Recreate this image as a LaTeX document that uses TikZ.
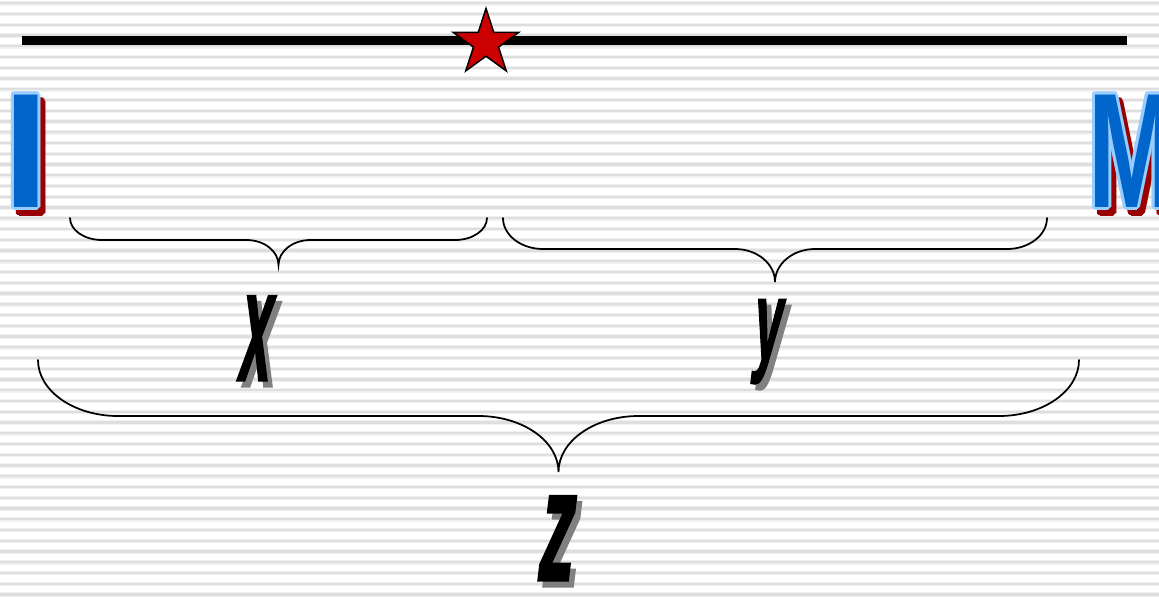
\documentclass[tikz,border=0pt]{standalone}
\usepackage{fontspec}
\usetikzlibrary{shapes.geometric}
\newfontfamily\capsfont{Liberation Sans Bold}
\newfontfamily\heavyfont{Liberation Sans Bold}[FakeBold=2]
\definecolor{capblue}{HTML}{0066CC}
\definecolor{caprim}{HTML}{99CCFF}
\definecolor{capshade}{HTML}{990000}
\definecolor{starred}{HTML}{CC0000}
\definecolor{stripe}{HTML}{DEDEDE}
\definecolor{stripesoft}{HTML}{F0F0F0}
\definecolor{shadegray}{HTML}{808080}
\tikzset{
  cap letter/.style={inner sep=0, anchor=base west, font=\capsfont\fontsize{93}{93}\selectfont},
  small letter/.style={inner sep=0, anchor=base, font=\heavyfont\fontsize{90}{90}\selectfont},
  brace line/.style={line width=0.035cm, line cap=round},
}
% blue capital with light rim and red shadow
\newcommand\rimletter[4]{%
  \foreach \a in {0,30,...,330}
    \node[cap letter, shift={(5,6)}, shift={(\a:3)}, xscale=#3, text=capshade] at (#2) {#4};
  \foreach \a in {0,30,...,330}
    \node[cap letter, shift={(\a:3)}, xscale=#3, text=caprim] at (#2) {#4};
  \node[cap letter, xscale=#3, text=capblue] (#1) at (#2) {#4};
}
% black italic letter with gray shadow
\newcommand\shadeletter[5]{%
  \node[small letter, shift={(5,6)}, xslant=0.12, xscale=#3, yscale=#4, text=shadegray] at (#2) {#5};
  \node[small letter, xslant=0.12, xscale=#3, yscale=#4] (#1) at (#2) {#5};
}
% curly brace: left x, right x, top y, middle y, tip y, radius
\newcommand\curlybrace[6]{%
  \pgfmathsetmacro\bm{(#1+#2)/2}
  \draw[brace line] (#1,#3) .. controls (#1,{#3+0.552*(#4-#3)}) and ({#1+0.448*#6},#4) .. ({#1+#6},#4)
    -- ({\bm-#6},#4) .. controls ({\bm-0.448*#6},#4) and (\bm,{#5-0.552*(#5-#4)}) .. (\bm,#5)
    .. controls (\bm,{#5-0.552*(#5-#4)}) and ({\bm+0.448*#6},#4) .. ({\bm+#6},#4)
    -- ({#2-#6},#4) .. controls ({#2-0.448*#6},#4) and (#2,{#3+0.552*(#4-#3)}) .. (#2,#3);
}
\begin{document}
\begin{tikzpicture}[x=0.02cm, y=-0.02cm]
  \useasboundingbox (0,0) rectangle (1159,596);
  \clip (0,0) rectangle (1159,596);
  \fill[white] (0,0) rectangle (1159,596);
  % striped background
  \foreach \k in {0,...,55} {
    \draw[stripesoft, line width=0.09cm] (0,{3.3+10.75*\k}) -- (1159,{3.3+10.75*\k});
    \draw[stripe, line width=0.045cm] (0,{3.3+10.75*\k}) -- (1159,{3.3+10.75*\k});
  }
  % top line and star
  \draw[line width=0.186cm] (22,40.5) -- (1127,40.5);
  \node[star, star points=5, star point ratio=2.618, minimum size=1.38cm, inner sep=0,
        fill=starred, draw=black, line width=0.03cm] (mark) at (486,43) {};
  % capitals
  \rimletter{capI}{3,207}{1}{I}
  \rimletter{capM}{1088,207}{0.64}{M}
  % braces
  \curlybrace{70}{487}{218}{240}{265}{32}
  \curlybrace{503}{1047}{218}{249}{282}{40}
  \curlybrace{38}{1079}{360}{416}{472}{80}
  % letters
  \shadeletter{lx}{252,380}{0.35}{1}{x}
  \shadeletter{ly}{765,360}{0.32}{0.72}{y}
  \shadeletter{lz}{553,580}{0.45}{1}{z}
\end{tikzpicture}
\end{document}
